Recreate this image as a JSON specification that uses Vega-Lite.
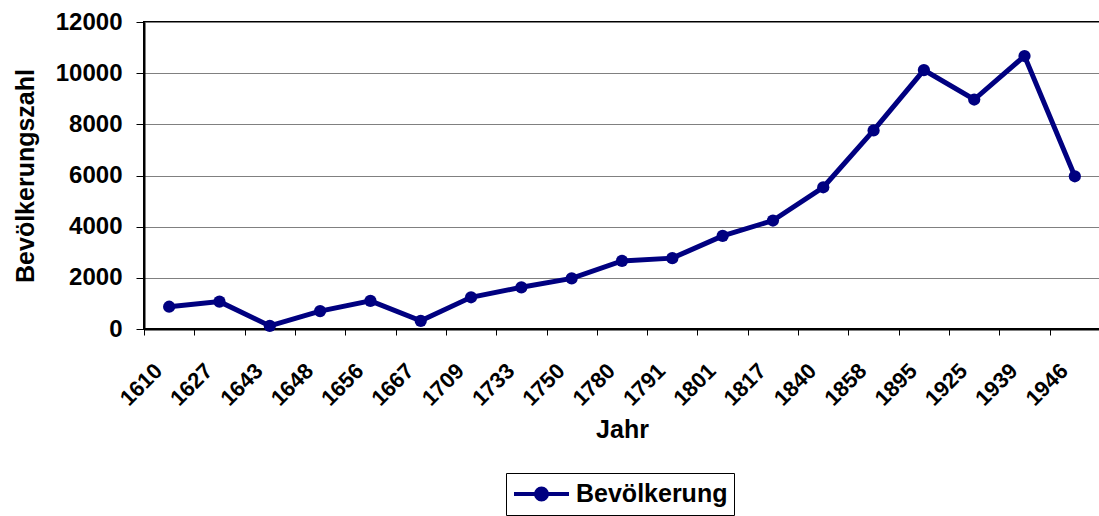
{
  "$schema": "https://vega.github.io/schema/vega-lite/v6.json",
  "autosize": {"type": "none"},
  "width": 956,
  "height": 307,
  "padding": {"left": 144, "top": 22, "right": 0, "bottom": 187},
  "background": "white",
  "config": {
    "font": "Liberation Sans",
    "view": {"stroke": "black", "strokeWidth": 2},
    "axis": {"domainColor": "black", "domainWidth": 2, "tickColor": "black", "tickWidth": 1, "labelColor": "black", "titleColor": "black", "labelFontWeight": "bold", "titleFontWeight": "bold", "labelFont": "Liberation Sans", "titleFont": "Liberation Sans"}
  },
  "data": {
    "values": [
      {"Jahr": "1610", "Wert": 870, "Serie": "Bevölkerung"},
      {"Jahr": "1627", "Wert": 1070, "Serie": "Bevölkerung"},
      {"Jahr": "1643", "Wert": 120, "Serie": "Bevölkerung"},
      {"Jahr": "1648", "Wert": 700, "Serie": "Bevölkerung"},
      {"Jahr": "1656", "Wert": 1100, "Serie": "Bevölkerung"},
      {"Jahr": "1667", "Wert": 320, "Serie": "Bevölkerung"},
      {"Jahr": "1709", "Wert": 1240, "Serie": "Bevölkerung"},
      {"Jahr": "1733", "Wert": 1630, "Serie": "Bevölkerung"},
      {"Jahr": "1750", "Wert": 1980, "Serie": "Bevölkerung"},
      {"Jahr": "1780", "Wert": 2660, "Serie": "Bevölkerung"},
      {"Jahr": "1791", "Wert": 2770, "Serie": "Bevölkerung"},
      {"Jahr": "1801", "Wert": 3640, "Serie": "Bevölkerung"},
      {"Jahr": "1817", "Wert": 4240, "Serie": "Bevölkerung"},
      {"Jahr": "1840", "Wert": 5540, "Serie": "Bevölkerung"},
      {"Jahr": "1858", "Wert": 7760, "Serie": "Bevölkerung"},
      {"Jahr": "1895", "Wert": 10120, "Serie": "Bevölkerung"},
      {"Jahr": "1925", "Wert": 8970, "Serie": "Bevölkerung"},
      {"Jahr": "1939", "Wert": 10670, "Serie": "Bevölkerung"},
      {"Jahr": "1946", "Wert": 5970, "Serie": "Bevölkerung"}
    ]
  },
  "mark": {"type": "line", "strokeWidth": 5, "point": {"filled": true, "size": 150, "color": "#000080", "opacity": 1}},
  "encoding": {
    "x": {
      "field": "Jahr",
      "type": "ordinal",
      "sort": null,
      "scale": {"type": "band", "paddingInner": 0, "paddingOuter": 0},
      "axis": {
        "title": "Jahr",
        "titleFontSize": 25,
        "titleBaseline": "alphabetic",
        "titleY": 108,
        "labelFontSize": 22,
        "labelAngle": -45,
        "labelAlign": "right",
        "labelBaseline": "middle",
        "labelOffset": -11,
        "labelPadding": 32,
        "tickBand": "extent",
        "tickSize": 6,
        "grid": false
      }
    },
    "y": {
      "field": "Wert",
      "type": "quantitative",
      "scale": {"domain": [0, 12000], "nice": false},
      "axis": {
        "title": "Bevölkerungszahl",
        "titleFontSize": 25,
        "titleAngle": -90,
        "titleBaseline": "alphabetic",
        "titleX": -111,
        "titleY": 153.5,
        "labelFontSize": 24,
        "labelPadding": 14,
        "format": "d",
        "tickSize": 8,
        "values": [0, 2000, 4000, 6000, 8000, 10000, 12000],
        "grid": true,
        "gridColor": "#808080",
        "gridWidth": 1
      }
    },
    "color": {
      "field": "Serie",
      "type": "nominal",
      "scale": {"range": ["#000080"]},
      "legend": {
        "title": null,
        "orient": "none",
        "legendX": 362,
        "legendY": 451,
        "strokeColor": "black",
        "fillColor": "white",
        "padding": 6,
        "clipHeight": 30,
        "labelFontSize": 25,
        "labelFontWeight": "bold",
        "labelColor": "black",
        "labelLimit": 400,
        "labelOffset": 5,
        "symbolType": "M-1,0L1,0M-0.2,0A0.2,0.2,0,1,0,0.2,0A0.2,0.2,0,1,0,-0.2,0Z",
        "symbolSize": 3025,
        "symbolStrokeWidth": 4,
        "symbolFillColor": "#000080",
        "symbolStrokeColor": "#000080",
        "encode": {"symbols": {"update": {"fill": {"value": "#000080"}, "stroke": {"value": "#000080"}, "strokeWidth": {"value": 4}}}}
      }
    }
  }
}
